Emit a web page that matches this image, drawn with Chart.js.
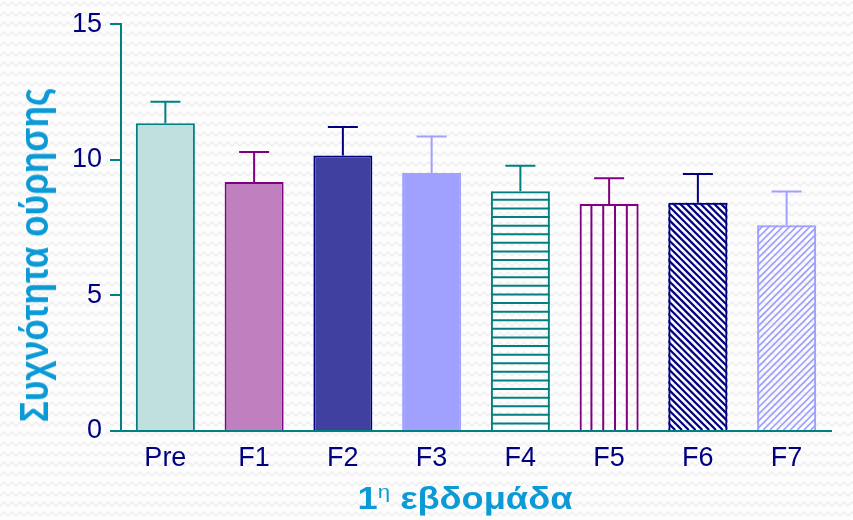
<!DOCTYPE html>
<html>
<head>
<meta charset="utf-8">
<script src="https://cdn.jsdelivr.net/npm/chart.js@4/dist/chart.umd.min.js"></script>
<style>
    html, body { margin: 0; padding: 0; }
    body {
        width: 853px; height: 520px; overflow: hidden; position: relative;
        font-family: 'Liberation Sans', Arial, sans-serif;
        background: #fdfdfd url("data:image/svg+xml;utf8,<svg xmlns='http://www.w3.org/2000/svg' width='8' height='10'><path d='M0 6 L4 2 L8 6' fill='none' stroke='%23ededed' stroke-width='1.4'/></svg>");
    }
    #chart { position: absolute; left: 0; top: 0; }
    .ttl { position: absolute; color: #0c9ad6; font-weight: bold; white-space: nowrap; line-height: 1; }
    #ytitle { left: 34px; top: 255px; font-size: 40px; transform: translate(-50%, -50%) rotate(-90deg) scaleX(0.88); }
    #xtitle { left: 465px; top: 498px; font-size: 31px; transform: translate(-50%, -50%) scaleX(1.17); }
    #xtitle sup { font-size: 19px; line-height: 0; vertical-align: 11px; font-weight: normal; }
</style>
</head>
<body>
<canvas id="chart" width="853" height="520"></canvas>
<div class="ttl" id="ytitle">Συχνότητα ούρησης</div>
<div class="ttl" id="xtitle">1<sup>η</sup> εβδομάδα</div>
<script>
const CATEGORIES = ['Pre', 'F1', 'F2', 'F3', 'F4', 'F5', 'F6', 'F7'];
const MEANS = [11.35, 9.18, 10.16, 9.51, 8.84, 8.37, 8.42, 7.59];
const SEM = [0.79, 1.11, 1.05, 1.35, 0.94, 0.95, 1.06, 1.24];
const Y_MIN = 0, Y_MAX = 15, Y_STEP = 5;

// looks of each bar: solid fill or a hatch drawn by the plugin below
const FILLS = ['#c0e0e0', '#c080c0', '#4040a0', '#a0a0ff', 'transparent', 'transparent', 'transparent', 'transparent'];
const BORDERS = ['#008080', '#800080', '#000080', '#a0a0ff', '#008080', '#800080', '#000080', '#a0a0ff'];
const HATCH = [null, null, null, null, 'h', 'v', 'back', 'fwd'];

const AXIS = '#008080', TICK_TXT = '#000080';
const FONT = "'Liberation Sans', Arial, sans-serif";

const hatchPlugin = {
    id: 'hatch',
    afterDatasetsDraw(chart) {
        const { ctx } = chart;
        chart.getDatasetMeta(0).data.forEach((bar, i) => {
            const kind = HATCH[i];
            if (!kind) return;
            const l = bar.x - bar.width / 2, r = bar.x + bar.width / 2, t = bar.y, b = bar.base, h = b - t;
            ctx.save();
            ctx.beginPath(); ctx.rect(l, t, r - l, h); ctx.clip();
            ctx.strokeStyle = BORDERS[i];
            ctx.beginPath();
            if (kind === 'h') {
                ctx.lineWidth = 2;
                for (let y = t + 8.6; y < b; y += 8.6) { ctx.moveTo(l, y); ctx.lineTo(r, y); }
            } else if (kind === 'v') {
                ctx.lineWidth = 2;
                const w = (r - l) / 5;
                for (let k = 1; k < 5; k++) { ctx.moveTo(l + k * w, t); ctx.lineTo(l + k * w, b); }
            } else if (kind === 'back') {
                ctx.lineWidth = 2.2;
                for (let s = -h; s < r - l; s += 6.8) { ctx.moveTo(l + s, t); ctx.lineTo(l + s + h, b); }
            } else {
                ctx.lineWidth = 1.7;
                for (let s = -h; s < r - l; s += 6.8) { ctx.moveTo(l + s, b); ctx.lineTo(l + s + h, t); }
            }
            ctx.stroke();
            ctx.restore();
        });
    }
};

// upward-only SEM whiskers, coloured like each bar's outline
const errorBarPlugin = {
    id: 'errbars',
    afterDatasetsDraw(chart) {
        const { ctx } = chart, yScale = chart.scales.y;
        chart.getDatasetMeta(0).data.forEach((bar, i) => {
            const yTop = yScale.getPixelForValue(MEANS[i] + SEM[i]);
            ctx.save();
            ctx.strokeStyle = BORDERS[i];
            ctx.lineWidth = 2;
            ctx.beginPath();
            ctx.moveTo(bar.x, bar.y); ctx.lineTo(bar.x, yTop);
            ctx.moveTo(bar.x - 15, yTop); ctx.lineTo(bar.x + 15, yTop);
            ctx.stroke();
            ctx.restore();
        });
    }
};

new Chart(document.getElementById('chart'), {
    type: 'bar',
    data: {
        labels: CATEGORIES,
        datasets: [{
            data: MEANS,
            backgroundColor: FILLS,
            borderColor: BORDERS,
            borderWidth: 2,
            categoryPercentage: 1,
            barPercentage: 0.665
        }]
    },
    options: {
        responsive: false,
        animation: false,
        devicePixelRatio: 1,
        layout: { padding: { top: 21, right: 22, left: 0, bottom: 0 } },
        plugins: { legend: { display: false }, tooltip: { enabled: false } },
        scales: {
            x: {
                grid: { display: false, drawTicks: false },
                border: { color: AXIS, width: 2 },
                ticks: { color: TICK_TXT, font: { family: FONT, size: 27 }, padding: 11 },
                afterFit: s => { s.height = 89; }
            },
            y: {
                min: Y_MIN, max: Y_MAX,
                ticks: { stepSize: Y_STEP, color: TICK_TXT, font: { family: FONT, size: 27 }, padding: 8 },
                grid: { drawOnChartArea: false, tickLength: 11, color: AXIS, lineWidth: 2 },
                border: { color: AXIS, width: 2 },
                afterFit: s => { s.width = 121; }
            }
        }
    },
    plugins: [hatchPlugin, errorBarPlugin]
});
</script>
</body>
</html>
